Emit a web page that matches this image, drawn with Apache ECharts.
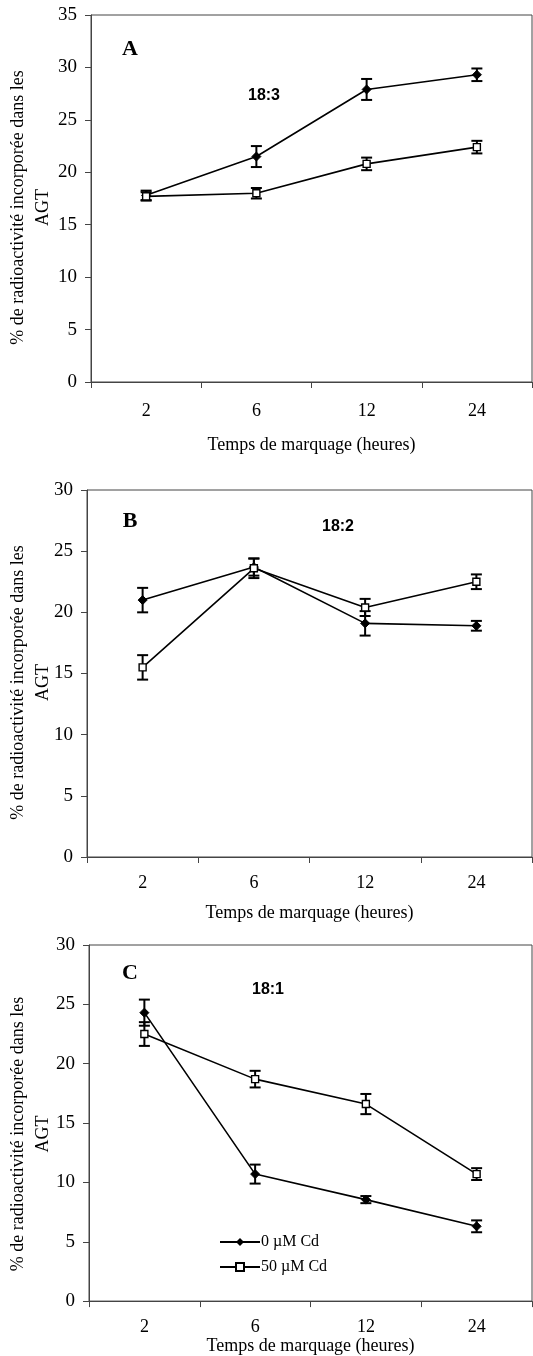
<!DOCTYPE html>
<html>
<head>
<meta charset="utf-8">
<script src="https://cdn.jsdelivr.net/npm/echarts@6/dist/echarts.min.js"></script>
<style>
  html, body { margin: 0; padding: 0; background: #fff; }
  #chart { width: 533px; height: 1356px; }
</style>
</head>
<body>
<div id="chart"></div>
<script>
// Labelling time (hours)
const categories = ['2', '6', '12', '24'];

// Panel A, 18:3
const a0 = [17.8, 21.5, 27.9, 29.3];
const a0Err = [0.45, 1.0, 1.0, 0.6];
const a50 = [17.7, 18.0, 20.8, 22.4];
const a50Err = [0.4, 0.5, 0.6, 0.6];

// Panel B, 18:2
const b0 = [21.0, 23.7, 19.1, 18.9];
const b0Err = [1.0, 0.7, 1.0, 0.4];
const b50 = [15.5, 23.6, 20.4, 22.5];
const b50Err = [1.0, 0.8, 0.7, 0.6];

// Panel C, 18:1
const c0 = [24.3, 10.7, 8.55, 6.3];
const c0Err = [1.1, 0.8, 0.3, 0.5];
const c50 = [22.5, 18.7, 16.6, 10.7];
const c50Err = [1.0, 0.7, 0.85, 0.5];

const seriesNames = ['0 µM Cd', '50 µM Cd'];
const xTitle = 'Temps de marquage (heures)';
const yTitle = '% de radioactivité incorporée dans les\nAGT';

const panels = [
  { letter: 'A', acid: '18:3', d0: a0, e0: a0Err, d50: a50, e50: a50Err, yMax: 35,
    grid: { left: 91, top: 15, height: 367 }, labelMargin: 20, nameGap: 54,
    letterPos: [130, 49], acidPos: [264, 96] },
  { letter: 'B', acid: '18:2', d0: b0, e0: b0Err, d50: b50, e50: b50Err, yMax: 30,
    grid: { left: 87, top: 490, height: 367 }, labelMargin: 17, nameGap: 47,
    letterPos: [130, 521], acidPos: [338, 527] },
  { letter: 'C', acid: '18:1', d0: c0, e0: c0Err, d50: c50, e50: c50Err, yMax: 30,
    grid: { left: 89, top: 945, height: 360 }, labelMargin: 17, nameGap: 33,
    letterPos: [130, 973], acidPos: [268, 990] }
];

const SERIF = '"Liberation Serif", "Times New Roman", serif';
const SANS = '"Liberation Sans", Arial, sans-serif';

function errorBars(values, errs, gi) {
  return {
    type: 'custom',
    xAxisIndex: gi,
    yAxisIndex: gi,
    z: 1,
    silent: true,
    data: values.map((v, i) => [i, v, errs[i]]),
    renderItem: function (params, api) {
      const i = api.value(0), v = api.value(1), e = api.value(2);
      const top = api.coord([i, v + e]);
      const bot = api.coord([i, v - e]);
      const cap = 5.5;
      const style = { stroke: '#000', lineWidth: 2 };
      return {
        type: 'group',
        children: [
          { type: 'line', shape: { x1: top[0], y1: top[1], x2: bot[0], y2: bot[1] }, style: style },
          { type: 'line', shape: { x1: top[0] - cap, y1: top[1], x2: top[0] + cap, y2: top[1] }, style: style },
          { type: 'line', shape: { x1: bot[0] - cap, y1: bot[1], x2: bot[0] + cap, y2: bot[1] }, style: style }
        ]
      };
    }
  };
}

const grids = [], xAxes = [], yAxes = [], series = [], graphics = [];

panels.forEach((p, gi) => {
  grids.push({
    left: p.grid.left, top: p.grid.top, height: p.grid.height, right: 1,
    show: true, borderColor: '#444', borderWidth: 1, backgroundColor: 'transparent'
  });
  xAxes.push({
    type: 'category', gridIndex: gi, data: categories, boundaryGap: true,
    axisLine: { lineStyle: { color: '#444', width: 1 } },
    axisTick: { show: true, length: 6, lineStyle: { color: '#444' } },
    axisLabel: { color: '#000', fontFamily: SERIF, fontSize: 18, margin: p.labelMargin },
    name: xTitle, nameLocation: 'middle', nameGap: p.nameGap,
    nameTextStyle: { color: '#000', fontFamily: SERIF, fontSize: 18 }
  });
  yAxes.push({
    type: 'value', gridIndex: gi, min: 0, max: p.yMax, interval: 5,
    axisLine: { show: true, lineStyle: { color: '#444', width: 1 } },
    axisTick: { show: true, length: 6, lineStyle: { color: '#444' } },
    axisLabel: { color: '#000', fontFamily: SERIF, fontSize: 19, margin: 14 },
    splitLine: { show: false }
  });

  series.push(errorBars(p.d0, p.e0, gi));
  series.push(errorBars(p.d50, p.e50, gi));
  series.push({
    name: seriesNames[0], type: 'line', xAxisIndex: gi, yAxisIndex: gi, z: 3,
    data: p.d0, symbol: 'diamond', symbolSize: 9,
    lineStyle: { color: '#000', width: 1.6 },
    itemStyle: { color: '#000', borderColor: '#000' },
    animation: false
  });
  series.push({
    name: seriesNames[1], type: 'line', xAxisIndex: gi, yAxisIndex: gi, z: 3,
    data: p.d50, symbol: 'rect', symbolSize: 7,
    lineStyle: { color: '#000', width: 1.6 },
    itemStyle: { color: '#fff', borderColor: '#000', borderWidth: 1.4 },
    animation: false
  });

  graphics.push({
    type: 'text', x: p.letterPos[0], y: p.letterPos[1],
    style: { text: p.letter, fontFamily: SERIF, fontWeight: 'bold', fontSize: 22,
             fill: '#000', textAlign: 'center', textVerticalAlign: 'middle' }
  });
  graphics.push({
    type: 'text', x: p.acidPos[0], y: p.acidPos[1],
    style: { text: p.acid, fontFamily: SANS, fontWeight: 'bold', fontSize: 16,
             fill: '#000', textAlign: 'center', textVerticalAlign: 'middle' }
  });
  const cy = p.grid.top + p.grid.height / 2 + 9;
  graphics.push({
    type: 'text', x: 31, y: cy, rotation: Math.PI / 2,
    style: { text: yTitle, fontFamily: SERIF, fontSize: 18, lineHeight: 25,
             fill: '#000', textAlign: 'center', textVerticalAlign: 'middle' }
  });
});

const chart = echarts.init(document.getElementById('chart'), null, { renderer: 'canvas' });
chart.setOption({
  animation: false,
  backgroundColor: '#fff',
  grid: grids,
  xAxis: xAxes,
  yAxis: yAxes,
  series: series,
  graphic: graphics,
  legend: {
    data: seriesNames, orient: 'vertical', left: 214, top: 1229,
    itemWidth: 40, itemHeight: 10, itemGap: 9,
    textStyle: { color: '#000', fontFamily: SERIF, fontSize: 16, padding: [0, 0, 0, -4] },
    selectedMode: false
  }
});
</script>
</body>
</html>
